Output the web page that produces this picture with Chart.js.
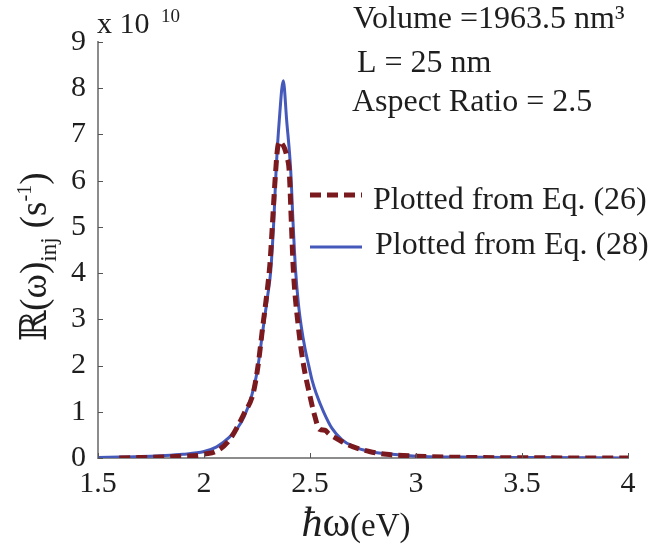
<!DOCTYPE html>
<html>
<head>
<meta charset="utf-8">
<script src="https://cdn.jsdelivr.net/npm/chart.js@4.4.1/dist/chart.umd.min.js"></script>
<style>
  html, body { margin: 0; padding: 0; background: #fff; }
  #wrap { width: 651px; height: 545px; }
</style>
</head>
<body>
<div id="wrap"><canvas id="grafico" width="651" height="545"></canvas></div>
<script>
// dados (valores em unidades de 10^10 s^-1)
const xEq28 = [1.5, 1.6, 1.7, 1.8, 1.9, 2.0, 2.06, 2.12, 2.16, 2.19, 2.225, 2.25, 2.28, 2.30, 2.315, 2.33, 2.34, 2.355, 2.374,
               2.39, 2.409, 2.42, 2.432, 2.445, 2.459, 2.476, 2.494, 2.51, 2.529, 2.564, 2.604, 2.65, 2.704, 2.78, 2.86, 3.0, 3.2, 3.5, 4.0];
const yEq28 = [0.01, 0.02, 0.03, 0.05, 0.08, 0.14, 0.24, 0.45, 0.66, 0.9, 1.35, 1.85, 2.84, 3.5, 4.06, 5.2, 6.22, 7.3, 8.16,
               7.3, 6.22, 5.1, 4.06, 3.35, 2.84, 2.38, 2.0, 1.68, 1.4, 1.0, 0.64, 0.4, 0.25, 0.14, 0.09, 0.04, 0.02, 0.01, 0.0];

const xEq26 = [1.6, 1.7, 1.8, 1.9, 1.98, 2.0, 2.06, 2.12, 2.19, 2.232, 2.255, 2.277, 2.295, 2.311, 2.322, 2.335, 2.347, 2.358,
               2.368, 2.38, 2.392, 2.402, 2.412, 2.421, 2.445, 2.47, 2.497, 2.52, 2.545, 2.57, 2.59, 2.626, 2.66, 2.704,
               2.78, 2.86, 3.0, 3.2, 3.5, 4.0];
const yEq26 = [0.0, 0.01, 0.02, 0.04, 0.06, 0.08, 0.15, 0.39, 0.97, 1.4, 2.0, 2.84, 3.5, 4.2, 5.0, 6.0, 6.7, 6.85,
               6.8, 6.7, 6.5, 6.2, 5.1, 4.1, 2.84, 2.0, 1.4, 0.95, 0.62, 0.6, 0.52, 0.42, 0.33, 0.24,
               0.14, 0.08, 0.04, 0.015, 0.005, 0.0];

const legendLabels = ['Plotted from Eq. (26)', 'Plotted from Eq. (28)'];
const notes = ['Volume =1963.5 nm\u00b3', 'L = 25 nm', 'Aspect Ratio = 2.5'];

const serif = "'Liberation Serif', 'DejaVu Serif', serif";
const corVermelho = '#7a1a1e';
const corAzul = '#4559bb';

function pares(xs, ys) {
    return xs.map((x, i) => ({ x: x, y: ys[i] }));
}

// textos, marcas internas e legenda
const extras = {
    id: 'extras',
    afterDraw(chart) {
        const ctx = chart.ctx;
        const xs = chart.scales.x;
        const ys = chart.scales.y;
        const area = chart.chartArea;
        ctx.save();

        // marcas dos eixos (para dentro)
        ctx.strokeStyle = '#555';
        ctx.lineWidth = 1;
        ys.ticks.forEach(t => {
            const py = Math.round(ys.getPixelForValue(t.value)) + 0.5;
            ctx.beginPath();
            ctx.moveTo(area.left, py);
            ctx.lineTo(area.left + 5, py);
            ctx.stroke();
        });
        xs.ticks.forEach(t => {
            const px = Math.round(xs.getPixelForValue(t.value)) + 0.5;
            ctx.beginPath();
            ctx.moveTo(px, area.bottom);
            ctx.lineTo(px, area.bottom - 5);
            ctx.stroke();
        });

        ctx.fillStyle = '#1e1e1e';
        ctx.textBaseline = 'alphabetic';
        ctx.textAlign = 'left';

        // x 10^10
        ctx.font = '30px ' + serif;
        ctx.fillText('x 10', 97, 33);
        ctx.font = '19px ' + serif;
        ctx.fillText('10', 161, 22);

        // anotações
        ctx.font = '32px ' + serif;
        ctx.fillText(notes[0], 353, 28);
        ctx.fillText(notes[1], 357, 72);
        ctx.fillText(notes[2], 352, 111);

        // legenda
        ctx.lineWidth = 5;
        ctx.strokeStyle = corVermelho;
        ctx.setLineDash([11, 6]);
        ctx.beginPath();
        ctx.moveTo(310, 195);
        ctx.lineTo(362, 195);
        ctx.stroke();
        ctx.setLineDash([]);
        ctx.lineWidth = 3;
        ctx.strokeStyle = corAzul;
        ctx.beginPath();
        ctx.moveTo(310, 247);
        ctx.lineTo(362, 247);
        ctx.stroke();
        ctx.font = '32px ' + serif;
        ctx.fillText(legendLabels[0], 373, 209);
        ctx.fillText(legendLabels[1], 375, 254);

        // título do eixo x
        ctx.font = 'italic 42px ' + serif;
        const w1 = ctx.measureText('\u0127').width;
        ctx.font = '42px ' + serif;
        const w2 = ctx.measureText('\u03c9').width;
        ctx.font = '33px ' + serif;
        const w3 = ctx.measureText('(eV)').width;
        let x0 = 356 - (w1 + w2 + w3) / 2;
        ctx.font = 'italic 42px ' + serif;
        ctx.fillText('\u0127', x0, 536);
        ctx.font = '42px ' + serif;
        ctx.fillText('\u03c9', x0 + w1, 536);
        ctx.font = '33px ' + serif;
        ctx.fillText('(eV)', x0 + w1 + w2, 536);

        // título do eixo y (girado)
        const partes = [
            { t: '\u211d(\u03c9)', f: '37px ', dy: 0 },
            { t: 'inj', f: '23px ', dy: 10 },
            { t: ' (s', f: '37px ', dy: 0 },
            { t: '-1', f: '20px ', dy: -15 },
            { t: ')', f: '37px ', dy: 0 }
        ];
        let total = 0;
        partes.forEach(p => {
            ctx.font = p.f + serif;
            p.w = ctx.measureText(p.t).width;
            total += p.w;
        });
        ctx.translate(46, 257);
        ctx.rotate(-Math.PI / 2);
        let pos = -total / 2;
        partes.forEach(p => {
            ctx.font = p.f + serif;
            ctx.fillText(p.t, pos, p.dy);
            pos += p.w;
        });
        ctx.restore();
    }
};

const ctx = document.getElementById('grafico').getContext('2d');
const chart = new Chart(ctx, {
    type: 'line',
    data: {
        datasets: [
            {
                label: legendLabels[0],
                data: pares(xEq26, yEq26),
                borderColor: corVermelho,
                borderWidth: 5,
                borderDash: [11, 6],
                borderCapStyle: 'butt',
                pointRadius: 0,
                fill: false,
                cubicInterpolationMode: 'monotone'
            },
            {
                label: legendLabels[1],
                data: pares(xEq28, yEq28),
                borderColor: corAzul,
                borderWidth: 3,
                pointRadius: 0,
                fill: false,
                cubicInterpolationMode: 'monotone'
            }
        ]
    },
    options: {
        responsive: false,
        animation: false,
        devicePixelRatio: 1,
        layout: { padding: { top: 42, right: 23, left: 0, bottom: 0 } },
        plugins: {
            legend: { display: false },
            tooltip: { enabled: false }
        },
        scales: {
            x: {
                type: 'linear',
                min: 1.5,
                max: 4,
                afterFit: s => { s.height = 87; },
                grid: { drawOnChartArea: false, drawTicks: false },
                border: { color: '#8c8c8c', width: 2 },
                ticks: {
                    stepSize: 0.5,
                    padding: 8,
                    color: '#1e1e1e',
                    font: { family: serif, size: 30 },
                    maxRotation: 0,
                    callback: v => String(v)
                }
            },
            y: {
                min: 0,
                max: 9,
                afterFit: s => { s.width = 98; },
                grid: { drawOnChartArea: false, drawTicks: false },
                border: { color: '#8c8c8c', width: 2 },
                ticks: {
                    stepSize: 1,
                    padding: 12,
                    color: '#1e1e1e',
                    font: { family: serif, size: 30 }
                }
            }
        }
    },
    plugins: [extras]
});
</script>
</body>
</html>
